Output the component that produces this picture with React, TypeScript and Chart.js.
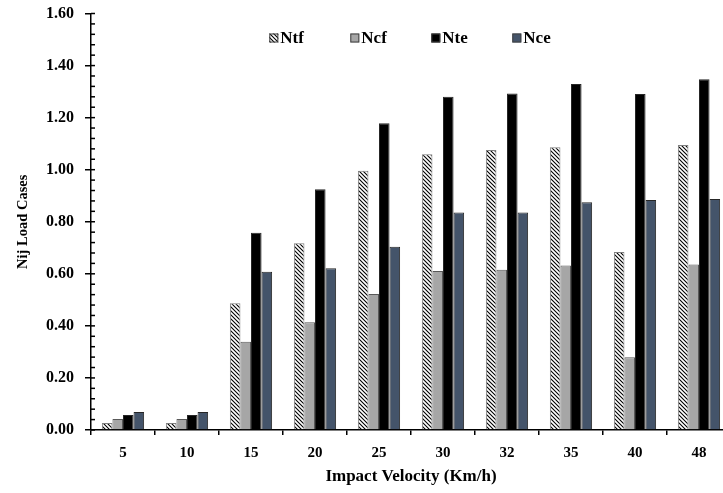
import React, { useEffect, useRef } from "react";
import { Chart, registerables } from "chart.js";

Chart.register(...registerables);

const categories = ["5", "10", "15", "20", "25", "30", "32", "35", "40", "48"];
const seriesNames = ["Ntf", "Ncf", "Nte", "Nce"];
const ntf = [0.027, 0.027, 0.487, 0.717, 0.996, 1.059, 1.076, 1.086, 0.684, 1.095];
const ncf = [0.042, 0.042, 0.339, 0.414, 0.522, 0.611, 0.616, 0.632, 0.279, 0.636];
const nte = [0.058, 0.058, 0.758, 0.925, 1.178, 1.28, 1.293, 1.329, 1.291, 1.347];
const nce = [0.069, 0.069, 0.608, 0.621, 0.704, 0.836, 0.836, 0.875, 0.884, 0.887];
const yMin = 0;
const yMax = 1.6;
const yStep = 0.2;
const yMinorStep = 0.04;

const FONT = "'Liberation Serif', 'Times New Roman', serif";

function makeHatch(): CanvasPattern | string {
  const c = document.createElement("canvas");
  c.width = 4;
  c.height = 4;
  const x = c.getContext("2d");
  if (!x) return "#ccc";
  x.fillStyle = "#fff";
  x.fillRect(0, 0, 4, 4);
  x.strokeStyle = "#000";
  x.lineWidth = 1.1;
  x.beginPath();
  x.moveTo(-1, -1);
  x.lineTo(5, 5);
  x.moveTo(-1, 3);
  x.lineTo(1, 5);
  x.moveTo(3, -1);
  x.lineTo(5, 1);
  x.stroke();
  const p = x.createPattern(c, "repeat");
  return p || "#ccc";
}

const extrasPlugin = {
  id: "extras",
  afterDraw(chart: any) {
    const ctx = chart.ctx;
    const y = chart.scales.y;
    const area = chart.chartArea;
    ctx.save();
    ctx.strokeStyle = "#000";
    ctx.lineWidth = 1.5;
    const n = Math.round((yMax - yMin) / yMinorStep);
    for (let i = 0; i <= n; i++) {
      const py = y.getPixelForValue(yMin + i * yMinorStep);
      ctx.beginPath();
      ctx.moveTo(area.left, py);
      ctx.lineTo(area.left + 4, py);
      ctx.stroke();
    }
    // legend inside the plot area
    const ds = chart.data.datasets;
    const step = 81;
    const box = 9;
    ctx.font = `bold 17px ${FONT}`;
    const lastW = box + 2 + ctx.measureText(ds[ds.length - 1].label).width;
    const total = step * (ds.length - 1) + lastW;
    const cx = (area.left + area.right) / 2 - 1;
    const x0 = cx - total / 2;
    const cy = y.getPixelForValue(yMax) + 24.5;
    ds.forEach((d: any, i: number) => {
      const bx = x0 + i * step;
      ctx.fillStyle = d.backgroundColor;
      ctx.fillRect(bx, cy - box / 2, box, box);
      ctx.lineWidth = 1;
      ctx.strokeStyle = "#404040";
      ctx.strokeRect(bx + 0.5, cy - box / 2 + 0.5, box - 1, box - 1);
      ctx.fillStyle = "#000";
      ctx.textBaseline = "middle";
      ctx.textAlign = "left";
      ctx.fillText(d.label, bx + box + 2, cy + 1);
    });
    ctx.restore();
  },
};

export default function App() {
  const ref = useRef<HTMLCanvasElement | null>(null);
  useEffect(() => {
    document.body.style.overflow = "hidden";
    const canvas = ref.current;
    if (!canvas) return;
    const hatch = makeHatch();
    const values = [ntf, ncf, nte, nce];
    const fills = [hatch, "#a6a6a6", "#000000", "#44546a"];
    const borders = ["#7f7f7f", "#595959", "#262626", "#262626"];
    const chart = new Chart(canvas, {
      type: "bar",
      data: {
        labels: categories,
        datasets: seriesNames.map((name, i) => ({
          label: name,
          data: values[i],
          backgroundColor: fills[i] as any,
          borderColor: borders[i],
          borderWidth: 1,
          categoryPercentage: 0.66,
          barPercentage: 1.0,
        })),
      },
      options: {
        responsive: false,
        animation: false,
        devicePixelRatio: 1,
        layout: { padding: { top: 13.5, right: 9, left: 0, bottom: 0 } },
        plugins: {
          legend: { display: false },
          tooltip: { enabled: false },
        },
        scales: {
          x: {
            offset: true,
            grid: {
              display: true,
              offset: true,
              drawOnChartArea: false,
              drawTicks: true,
              tickLength: 5,
              color: "#000",
              lineWidth: 1.5,
            },
            border: { display: true, color: "#000", width: 1.5 },
            ticks: {
              color: "#000",
              padding: 9,
              font: { family: FONT, size: 15, weight: "bold" },
              maxRotation: 0,
              autoSkip: false,
            },
            title: {
              display: true,
              text: "Impact Velocity (Km/h)",
              color: "#000",
              font: { family: FONT, size: 17, weight: "bold" },
              padding: { top: 0, bottom: 6 },
            },
            afterFit: (s: any) => {
              s.height = 63;
              s.paddingLeft = 0;
              s.paddingRight = 0;
            },
          },
          y: {
            min: yMin,
            max: yMax,
            grid: {
              display: true,
              drawOnChartArea: false,
              drawTicks: true,
              tickLength: 6,
              color: "#000",
              lineWidth: 1.5,
            },
            border: { display: true, color: "#000", width: 1.5 },
            ticks: {
              stepSize: yStep,
              color: "#000",
              padding: 11,
              font: { family: FONT, size: 16, weight: "bold" },
              callback: (v: any) => Number(v).toFixed(2),
            },
            title: {
              display: true,
              text: "Nij Load Cases",
              color: "#000",
              font: { family: FONT, size: 14.5, weight: "bold" },
              padding: { top: 14.5, bottom: 0 },
            },
            afterFit: (s: any) => {
              s.width = 91;
              s.paddingTop = 0;
              s.paddingBottom = 0;
            },
          },
        },
      },
      plugins: [extrasPlugin],
    });
    return () => chart.destroy();
  }, []);
  return (
    <div style={{ position: "fixed", left: 0, top: 0, width: 740, height: 493, background: "#fff" }}>
      <canvas ref={ref} width={740} height={493} style={{ display: "block" }} />
    </div>
  );
}
